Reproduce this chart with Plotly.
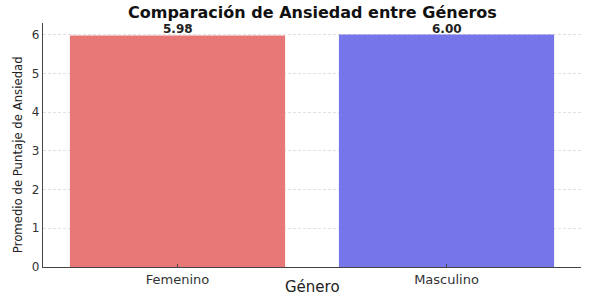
import plotly.graph_objects as go

generos = ["Femenino", "Masculino"]
promedios = [5.98, 6.00]
etiquetas = ["5.98", "6.00"]
colores = ["#E87878", "#7676EA"]
y_ticks = [0, 1, 2, 3, 4, 5, 6]

fig = go.Figure()
fig.add_trace(go.Bar(
    x=generos, y=promedios, width=0.8,
    marker=dict(color=colores, line=dict(width=0)),
    hoverinfo="skip",
))

annotations = [
    dict(text="<b>Comparación de Ansiedad entre Géneros</b>", xref="paper", yref="paper",
         x=0.5, y=1, yshift=11, yanchor="middle", xanchor="center", showarrow=False,
         borderpad=0, font=dict(family="DejaVu Sans", size=16, color="#111111")),
    dict(text="Género", xref="paper", yref="paper", x=0.5, y=0, yshift=-20,
         yanchor="middle", xanchor="center",
         showarrow=False, font=dict(family="DejaVu Sans", size=15, color="#222222")),
    dict(text="Promedio de Puntaje de Ansiedad", xref="paper", yref="paper",
         x=-0.048, y=0.459, textangle=-90, xanchor="center", yanchor="middle", showarrow=False,
         font=dict(family="Liberation Sans Narrow, DejaVu Sans Condensed, sans-serif",
                   size=13, color="#222222")),
]
for g, v, t in zip(generos, promedios, etiquetas):
    annotations.append(dict(
        text=f"<b>{t}</b>", x=g, y=v, xref="x", yref="y", yanchor="bottom", yshift=-2,
        showarrow=False, borderpad=0,
        font=dict(family="DejaVu Sans", size=12, color="#222222")))

fig.update_layout(
    width=589, height=296,
    margin=dict(l=43, r=8, t=23, b=29),
    plot_bgcolor="white", paper_bgcolor="white",
    showlegend=False,
    font=dict(family="DejaVu Sans", color="#333333"),
    xaxis=dict(
        range=[-0.5, 1.5], showline=True, linecolor="#444444", linewidth=1.2,
        ticks="inside", ticklen=3, tickcolor="#444444",
        tickfont=dict(size=13, color="#333333"), showgrid=False,
    ),
    yaxis=dict(
        range=[0, 6.3], tickvals=y_ticks, showline=True, linecolor="#444444", linewidth=1.2,
        showgrid=True, gridcolor="rgba(200,200,200,0.55)", griddash="3px,2px", gridwidth=1,
        tickfont=dict(size=12, color="#333333"), ticks="", zeroline=False,
        layer="above traces",
    ),
    annotations=annotations,
)

fig.write_html("out.html", config={"displayModeBar": False},
               post_script="document.body.style.margin='0';document.body.style.overflow='hidden';")
